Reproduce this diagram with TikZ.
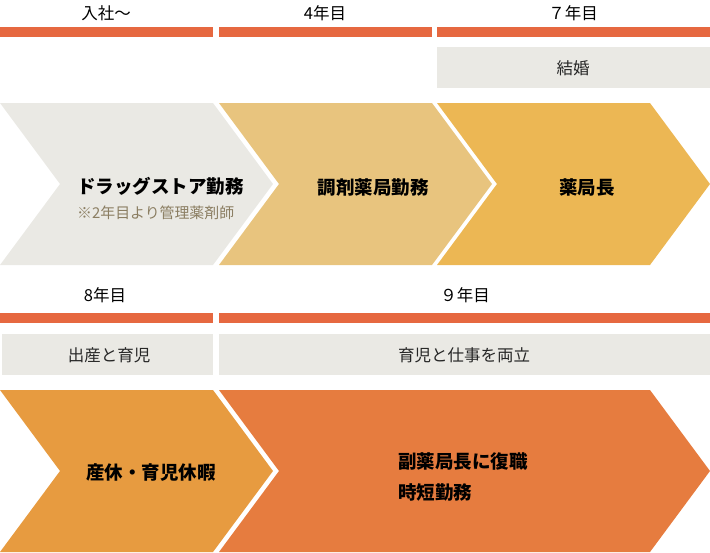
\documentclass[tikz,border=0pt]{standalone}
\usepackage{fontspec}
\setmainfont{Noto Sans CJK JP}
\newfontfamily\jp{Noto Sans CJK JP}
\definecolor{barorange}{HTML}{E66840}
\definecolor{boxgray}{HTML}{EAE9E4}
\definecolor{chgray}{HTML}{EAE9E4}
\definecolor{chtan}{HTML}{E8C47E}
\definecolor{chyellow}{HTML}{ECB754}
\definecolor{chorangeA}{HTML}{E79B40}
\definecolor{chorangeB}{HTML}{E67C3F}
\definecolor{subtxt}{HTML}{8B7E62}
\tikzset{
  yearlbl/.style={font=\jp\fontsize{16.5}{19}\selectfont, text=black, inner sep=0pt, anchor=center},
  boxlbl/.style={font=\jp\fontsize{16.5}{19}\selectfont, text=black!85, inner sep=0pt, anchor=center},
  chtitle/.style={font=\jp\bfseries\fontsize{18.5}{21}\selectfont, text=black, inner sep=0pt},
  chsub/.style={font=\jp\fontsize{14.9}{17}\selectfont, text=subtxt, inner sep=0pt},
}
\newcommand{\chev}[5]{% color, x0, x1, top, bottom
  \fill[#1] (#2,#4) -- (#3,#4) -- ({#3+60},{(#4+#5)/2}) -- (#3,#5) -- (#2,#5) -- ({#2+60},{(#4+#5)/2}) -- cycle;}
\begin{document}
\begin{tikzpicture}[x=1pt,y=-1pt]
\useasboundingbox (0,0) rectangle (710,552);
% ---------- row 1 ----------
\node[yearlbl] (y1) at (106,13) {入社〜};
\node[yearlbl] (y4) at (325,13) {4年目};
\node[yearlbl] (y7) at (573,13) {７年目};
\fill[barorange] (0,27) rectangle (213,37);
\fill[barorange] (219,27) rectangle (432,37);
\fill[barorange] (437,27) rectangle (710,37);
\fill[boxgray] (437,47) rectangle (710,88);
\node[boxlbl] (kekkon) at (573,68) {結婚};
\chev{chgray}{0}{213}{103}{265}
\chev{chtan}{219}{432}{103}{265}
\chev{chyellow}{437}{650}{103}{265}
\node[chtitle, anchor=west] (drug) at (77,186) {ドラッグストア勤務};
\node[chsub, anchor=west] (drugsub) at (77,213) {※2年目より管理薬剤師};
\node[chtitle] (chozai) at (373,187) {調剤薬局勤務};
\node[chtitle] (kyokucho) at (587,187) {薬局長};
% ---------- row 2 ----------
\node[yearlbl] (y8) at (105,295) {8年目};
\node[yearlbl] (y9) at (465,295) {９年目};
\fill[barorange] (0,313) rectangle (213,323);
\fill[barorange] (219,313) rectangle (710,323);
\fill[boxgray] (2,334) rectangle (213,375);
\fill[boxgray] (219,334) rectangle (710,375);
\node[boxlbl] (shussan) at (109,355) {出産と育児};
\node[boxlbl] (ryoritsu) at (464,355) {育児と仕事を両立};
\chev{chorangeA}{0}{213}{390}{552}
\chev{chorangeB}{219}{650}{390}{552}
\node[chtitle] (sankyu) at (151,473) {産休・育児休暇};
\node[chtitle, anchor=west] (fuku) at (398,461) {副薬局長に復職};
\node[chtitle, anchor=west] (jitan) at (398,492) {時短勤務};
\end{tikzpicture}
\end{document}
